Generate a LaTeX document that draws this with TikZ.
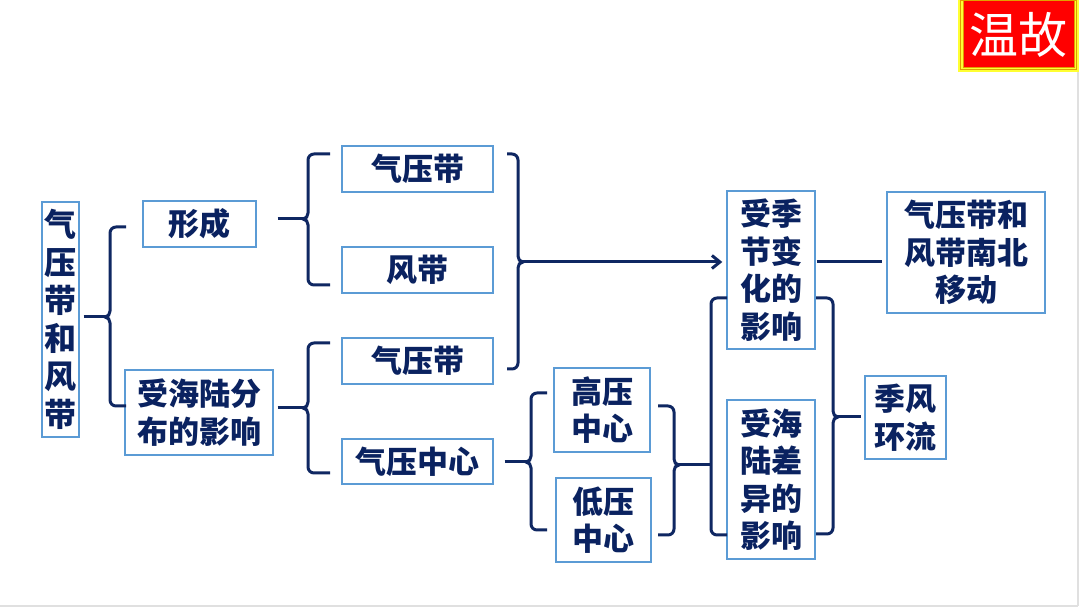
\documentclass[tikz,border=0pt]{standalone}
\usepackage{fontspec}
\setmainfont{Noto Sans CJK SC}
\usetikzlibrary{arrows.meta,calc}
\definecolor{navy}{HTML}{0F2762}
\definecolor{txt}{HTML}{0A2260}
\definecolor{bord}{HTML}{5B9BD5}
\definecolor{badgered}{HTML}{FF0000}
\definecolor{badgeyel}{HTML}{FFFF33}
\definecolor{badgeorg}{HTML}{E0A000}
\tikzset{
  box/.style={draw=bord, line width=1.4pt, rectangle, inner sep=0pt, align=center,
    text=txt, font=\fontsize{31}{37.5}\selectfont\bfseries},
  conn/.style={draw=navy, line width=3pt},
}
% brace opening right "{": #1 tip x, #2 vertical x, #3 top y, #4 bottom y, #5 mid y
\newcommand\bropen[5]{%
  \draw[conn] (#1,#3) -- (#2+6,#3) to[out=180,in=90] (#2,#3+6) -- (#2,#5-6)
    to[out=-90,in=0] (#2-5,#5) to[out=0,in=90] (#2,#5+6) -- (#2,#4-6)
    to[out=-90,in=180] (#2+6,#4) -- (#1,#4);}
% brace opening left "}"
\newcommand\brclose[5]{%
  \draw[conn] (#1,#3) -- (#2-6,#3) to[out=0,in=90] (#2,#3+6) -- (#2,#5-6)
    to[out=-90,in=180] (#2+5,#5) to[out=180,in=90] (#2,#5+6) -- (#2,#4-6)
    to[out=-90,in=0] (#2-6,#4) -- (#1,#4);}
\begin{document}
\begin{tikzpicture}[x=1pt,y=-1pt]
\useasboundingbox (0,0) rectangle (1080,609);
\fill[white] (0,0) rectangle (1080,609);
% page edge lines
\draw[black!12, line width=2pt] (0,606) -- (1078,606);
\draw[black!12, line width=2pt] (1078,72) -- (1078,606);

% badge
\fill[badgeyel] (958,0) rectangle (1079,72);
\draw[badgeorg, line width=0.8pt] (960.5,0) rectangle (1076.5,69.5);
\fill[badgered] (963,0) rectangle (1074,67);
\draw[badgeorg, line width=0.8pt] (963,0) rectangle (1074,67);
\node[text=white, font=\fontsize{49}{49}\selectfont, inner sep=0pt] (badge) at (1018.5,35) {温故};

% nodes
\node[box, minimum width=37pt, minimum height=235pt, font=\fontsize{32}{38}\selectfont\bfseries] (L) at (60.5,319.5) {气\\压\\带\\和\\风\\带};
\node[box, minimum width=113pt, minimum height=46pt] (xc) at (199.5,224) {形成};
\node[box, minimum width=148pt, minimum height=85pt] (hl) at (199,412.5) {受海陆分\\布的影响};
\node[box, minimum width=151pt, minimum height=46pt] (qy1) at (417.5,169) {气压带};
\node[box, minimum width=151pt, minimum height=46pt] (fd) at (417.5,270) {风带};
\node[box, minimum width=151pt, minimum height=46pt] (qy2) at (417.5,361) {气压带};
\node[box, minimum width=151pt, minimum height=45pt] (qyzx) at (417.5,461.5) {气压中心};
\node[box, minimum width=96pt, minimum height=84pt] (gy) at (602,410) {高压\\中心};
\node[box, minimum width=95pt, minimum height=84pt] (dy) at (603.5,520) {低压\\中心};
\node[box, minimum width=88pt, minimum height=158pt] (jj) at (771,270) {受季\\节变\\化的\\影响};
\node[box, minimum width=88pt, minimum height=159pt] (hlc) at (771,479.5) {受海\\陆差\\异的\\影响};
\node[box, minimum width=158pt, minimum height=121pt] (nb) at (966,252.5) {气压带和\\风带南北\\移动};
\node[box, minimum width=81pt, minimum height=83pt] (jf) at (905.5,417.5) {季风\\环流};

% braces and connectors
\bropen{126}{110}{227}{406}{317}
\draw[conn] ($(L.east)+(4,-2.5)$) -- (105,317);
\bropen{330}{308}{154}{285}{219}
\draw[conn] ($(xc.east)+(21,-5)$) -- (303,219);
\bropen{330}{308}{343}{473}{408}
\draw[conn] ($(hl.east)+(4,-4.5)$) -- (303,408);
\brclose{507}{518}{154}{369}{262}
\coordinate (arrowtip) at ($(jj.west)+(-4,-8)$);
\draw[conn, -{Straight Barb[length=8pt,width=13pt]}] (523,262) -- (arrowtip);
\bropen{547}{531}{393}{530}{462}
\draw[conn] ($(qyzx.east)+(11,0.5)$) -- (526,462);
\brclose{658}{674}{406}{535}{465}
\draw[conn] (679,465) -- (711,465);
\draw[conn] (727,298) -- (717,298) to[out=180,in=90] (711,304) -- (711,529)
  to[out=-90,in=180] (717,535) -- (727,535);
\brclose{816}{833}{298}{534}{417}
\draw[conn] (838,417) -- ($(jf.west)+(-3,-0.5)$);
\draw[conn] ($(jj.east)+(1,-8)$) -- ($(nb.west)+(-4,9.5)$);
\end{tikzpicture}
\end{document}
